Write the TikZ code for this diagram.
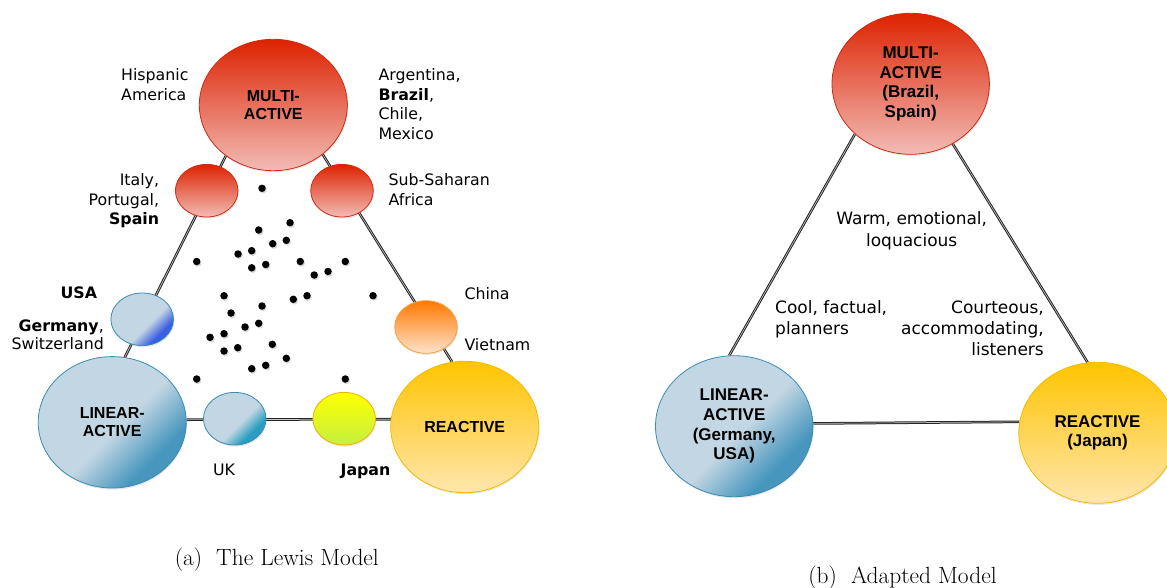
\documentclass[tikz,border=0pt]{standalone}
\usepackage{fontspec}
\newfontfamily\verd{DejaVu Sans}
\newfontfamily\arial{Liberation Sans}
\usetikzlibrary{shapes.geometric,shadows,backgrounds}
\definecolor{redtop}{HTML}{DD2200}
\definecolor{redbot}{HTML}{F2BCB6}
\definecolor{redline}{HTML}{D02A10}
\definecolor{bluelight}{HTML}{C3D6E3}
\definecolor{bluedark}{HTML}{4796BE}
\definecolor{blueusa}{HTML}{3A5EE2}
\definecolor{blueuk}{HTML}{2A9EC0}
\definecolor{blueline}{HTML}{3A8CB4}
\definecolor{orangetop}{HTML}{FF7800}
\definecolor{orangebot}{HTML}{FFE3CC}
\definecolor{orangeline}{HTML}{F4A040}
\definecolor{yeltop}{HTML}{FFFF00}
\definecolor{yelbot}{HTML}{C4F040}
\definecolor{yelline}{HTML}{F0B000}
\definecolor{reatop}{HTML}{FFC400}
\definecolor{reabot}{HTML}{FFE6AE}
\definecolor{realine}{HTML}{F4BA00}
\pgfdeclareverticalshading{blinear}{100bp}{color(0bp)=(bluedark); color(30bp)=(bluedark); color(47bp)=(bluelight); color(100bp)=(bluelight)}
\pgfdeclareverticalshading{busa}{100bp}{color(0bp)=(blueusa); color(30bp)=(blueusa); color(43bp)=(bluelight); color(100bp)=(bluelight)}
\pgfdeclareverticalshading{buk}{100bp}{color(0bp)=(blueuk); color(31bp)=(blueuk); color(44bp)=(bluelight); color(100bp)=(bluelight)}
\begin{document}
\begin{tikzpicture}[x=1pt,y=-1pt,
  blob/.style={ellipse, inner sep=0pt, line width=0.8pt,
    drop shadow={shadow xshift=0.8pt, shadow yshift=-1.6pt, opacity=0.18}},
  bigL/.style={blob, minimum width=148pt, minimum height=131.4pt},
  smallL/.style={blob, minimum width=62.6pt, minimum height=52.6pt},
  bigR/.style={blob, minimum width=157.4pt, minimum height=141pt},
  redfill/.style={draw=redline, top color=redtop, middle color=redtop, bottom color=redbot},
  bluefill/.style={draw=blueline, shading=#1, shading angle=45},
  orangefill/.style={draw=orangeline, top color=orangetop, middle color=orangetop!70!orangebot, bottom color=orangebot},
  yelfill/.style={draw=yelline, top color=yeltop, middle color=yeltop!85!yelbot, bottom color=yelbot},
  reafill/.style={draw=realine, top color=reatop, middle color=reatop, bottom color=reabot},
  inlabL/.style={font=\arial\bfseries\fontsize{16}{18.5}\selectfont, align=center},
  inlabR/.style={font=\arial\bfseries\fontsize{17}{19.6}\selectfont, align=center},
  lbl/.style={font=\verd\fontsize{15.8}{19.5}\selectfont, inner sep=0pt},
  lblR/.style={font=\verd\fontsize{17}{21}\selectfont, inner sep=0pt},
  edge/.style={draw=black!85, line width=1pt, double=gray!45, double distance=0.6pt},
  dot/.style={circle, fill=black, inner sep=0pt, minimum size=7.5pt,
    drop shadow={shadow xshift=1pt, shadow yshift=-1.5pt, opacity=0.3}},
  capt/.style={font=\fontsize{23.4}{27}\selectfont, inner sep=0pt}
]
\useasboundingbox (0,0) rectangle (1167,588);

% ---------- (a) The Lewis Model ----------
\node[bigL, redfill, inlabL] (m1) at (273.3,105) {MULTI-\\ACTIVE};
\node[smallL, redfill] (r1) at (206.7,190.7) {};
\node[smallL, redfill] (r2) at (342,190.7) {};
\node[smallL, bluefill=busa] (u1) at (142.2,319.3) {};
\node[bigL, bluefill=blinear, inlabL] (l1) at (112.2,422.3) {LINEAR-\\ACTIVE};
\node[smallL, bluefill=buk] (k1) at (234.7,418.7) {};
\node[smallL, yelfill] (j1) at (344.2,418.7) {};
\node[smallL, orangefill] (c1) at (426,327) {};
\node[bigL, reafill, inlabL] (re1) at (464.7,427) {REACTIVE};

\begin{pgfonlayer}{background}
  \draw[edge] (m1.227) -- (l1.79);
  \draw[edge] (m1.315.6) -- (re1.101.4);
  \draw[edge] (l1.2.3) -- (re1.174);
\end{pgfonlayer}

\foreach \p [count=\i] in {(262,188.3),(290,222.7),(258.7,230),(272.7,243.7),(286.3,240.3),
  (251.7,250.7),(238,254),(196.7,261.5),(265.7,264.5),(251.7,267.8),(300.3,261.5),
  (314.2,275),(328,271.5),(345.3,261.5),(224,295.7),(262,306),(293.3,299.3),(307,295.7),
  (373,295.7),(231,313),(258.7,323.3),(245,327),(210,337.3),(224,333.7),(272.3,344.3),
  (224,351),(237.7,347.7),(286.3,358.3),(251.7,368.7),(265.7,365.3),(196.7,379),(345.3,379)}
  \node[dot] (d\i) at \p {};

% base anchor of a multi-line node = baseline of its last line
\node[lbl, align=left, anchor=base west] (hisp) at (121,100.5) {Hispanic\\America};
\node[lbl, align=left, anchor=base west] (arg) at (378.3,139.5) {Argentina,\\\textbf{Brazil},\\Chile,\\Mexico};
\node[lbl, align=right, anchor=base east] (ita) at (159.3,224.7) {Italy,\\Portugal,\\\textbf{Spain}};
\node[lbl, align=left, anchor=base west] (ssa) at (388.3,205.2) {Sub-Saharan\\Africa};
\node[lbl, anchor=base] (usa) at (78.8,298.3) {\textbf{USA}};
\node[lbl, align=right, anchor=base east, font=\verd\fontsize{15.8}{18.3}\selectfont] (ger) at (104,349.3) {\textbf{Germany},\\Switzerland};
\node[lbl, anchor=base] (uk) at (224,475) {UK};
\node[lbl, anchor=base] (jap) at (365.5,475) {\textbf{Japan}};
\node[lbl, anchor=base west] (chi) at (464.3,299.3) {China};
\node[lbl, anchor=base west] (vie) at (464.3,350) {Vietnam};

\node[capt, anchor=base] (capa) at (276.8,565) {(a)\hspace{0.3em} The Lewis Model};

% ---------- (b) Adapted Model ----------
\node[bigR, redfill, inlabR] (m2) at (910.7,83.8) {MULTI-\\ACTIVE\\(Brazil,\\Spain)};
\node[bigR, bluefill=blinear, inlabR] (l2) at (734.2,426.2) {LINEAR-\\ACTIVE\\(Germany,\\USA)};
\node[bigR, reafill, inlabR] (re2) at (1097.5,432.8) {REACTIVE\\(Japan)};

\begin{pgfonlayer}{background}
  \draw[edge] (m2.222.6) -- (l2.94);
  \draw[edge] (m2.305.6) -- (re2.98.6);
  \draw[edge] (l2.2.6) -- (re2.172.6);
\end{pgfonlayer}

\node[lblR, align=center, anchor=base] (warm) at (911.7,246) {Warm, emotional,\\loquacious};
\node[lblR, align=left, anchor=base west] (cool) at (775,334.3) {Cool, factual,\\planners};
\node[lblR, align=right, anchor=base east] (court) at (1044,355.3) {Courteous,\\accommodating,\\listeners};

\node[capt, anchor=base] (capb) at (902.5,583.3) {(b)\hspace{0.3em} Adapted Model};
\end{tikzpicture}
\end{document}
